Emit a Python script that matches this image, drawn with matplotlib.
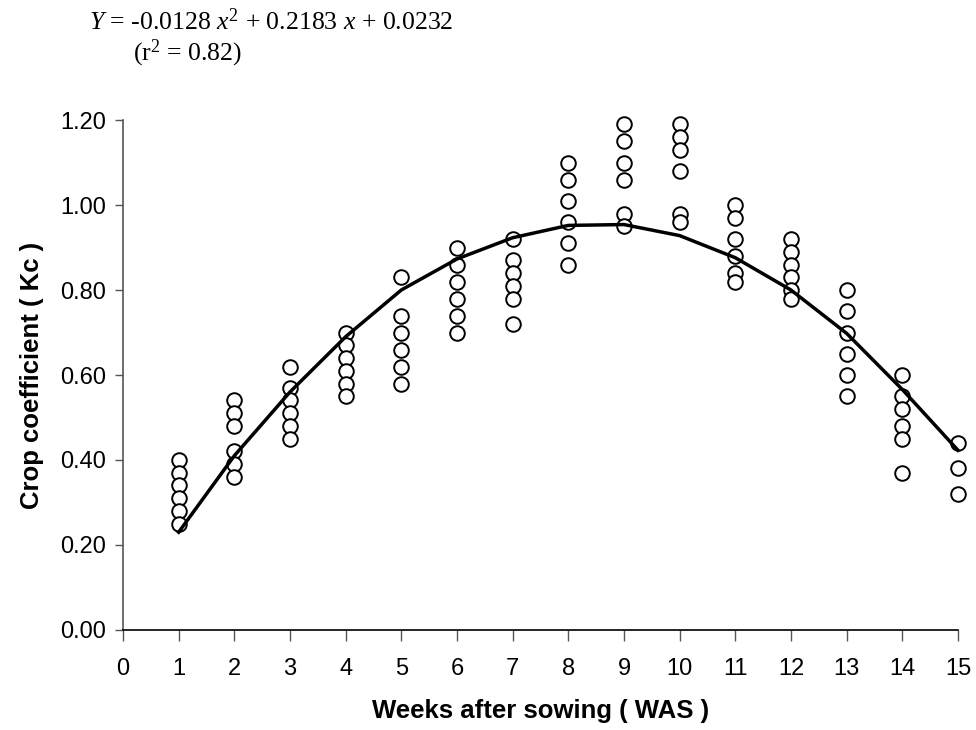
import numpy as np
import matplotlib
matplotlib.use("Agg")
import matplotlib.pyplot as plt
from matplotlib.ticker import FormatStrFormatter

# observed crop coefficient (Kc) values per week after sowing
weeks = list(range(1, 16))
kc_obs = [
    [0.40, 0.37, 0.34, 0.31, 0.28, 0.25],   # 1
    [0.54, 0.51, 0.48, 0.42, 0.39, 0.36],   # 2
    [0.62, 0.57, 0.54, 0.51, 0.48, 0.45],   # 3
    [0.70, 0.67, 0.64, 0.61, 0.58, 0.55],   # 4
    [0.83, 0.74, 0.70, 0.66, 0.62, 0.58],   # 5
    [0.90, 0.86, 0.82, 0.78, 0.74, 0.70],   # 6
    [0.92, 0.87, 0.84, 0.81, 0.78, 0.72],   # 7
    [1.10, 1.06, 1.01, 0.96, 0.91, 0.86],   # 8
    [1.19, 1.15, 1.10, 1.06, 0.98, 0.95],   # 9
    [1.19, 1.16, 1.13, 1.08, 0.98, 0.96],   # 10
    [1.00, 0.97, 0.92, 0.88, 0.84, 0.82],   # 11
    [0.92, 0.89, 0.86, 0.83, 0.80, 0.78],   # 12
    [0.80, 0.75, 0.70, 0.65, 0.60, 0.55],   # 13
    [0.60, 0.55, 0.52, 0.48, 0.45, 0.37],   # 14
    [0.44, 0.38, 0.32],                      # 15
]
# fitted trend line, read at each week
kc_fit = [0.23, 0.41, 0.56, 0.69, 0.80, 0.873, 0.923, 0.952, 0.954,
          0.928, 0.876, 0.80, 0.698, 0.566, 0.423]

eq_line1 = r"$Y$ = -0.0128 $x^2$ + 0.2183 $x$ + 0.0232"
eq_line2 = r"(r$^2$ = 0.82)"

plt.rcParams["mathtext.fontset"] = "custom"
plt.rcParams["mathtext.rm"] = "Liberation Serif"
plt.rcParams["mathtext.it"] = "Liberation Serif:italic"

fig = plt.figure(figsize=(9.76, 7.3), dpi=100)
ax = fig.add_axes([0.126, 0.137, 0.8555, 0.6986])

xs, ys = [], []
for w, vals in zip(weeks, kc_obs):
    xs += [w] * len(vals)
    ys += vals
ax.plot(xs, ys, ls="", marker="o", ms=10.5, mfc="white", mec="black", mew=1.4,
        zorder=3, clip_on=False)
ax.plot(weeks, kc_fit, color="black", lw=2.5, zorder=4, clip_on=False)

ax.set_xlim(0, 15)
ax.set_ylim(0, 1.2)
ax.set_xticks(range(0, 16))
ax.set_yticks(np.arange(0, 1.21, 0.2))
ax.yaxis.set_major_formatter(FormatStrFormatter("%.2f"))

for s in ["top", "right"]:
    ax.spines[s].set_visible(False)
ax.spines["left"].set_color("#555555")
ax.spines["left"].set_linewidth(1.2)
ax.spines["bottom"].set_linewidth(1.2)
ax.tick_params(axis="y", direction="out", length=6, width=1, colors="#555555", labelcolor="black",
               labelsize=17, pad=6)
ax.tick_params(axis="x", direction="out", length=8, width=1, colors="#555555", labelcolor="black",
               labelsize=17, pad=12)
for lab in ax.get_xticklabels() + ax.get_yticklabels():
    lab.set_family("Liberation Sans")

ax.set_xlabel("Weeks after sowing ( WAS )", family="Liberation Sans", fontsize=18.5,
              fontweight="bold", labelpad=14)
ax.set_ylabel("Crop coefficient ( Kc )", family="Liberation Sans", fontsize=18.5,
              fontweight="bold", labelpad=12)

fig.text(89 / 976, 1 - 22 / 730, eq_line1, family="Liberation Serif", fontsize=18.5, va="center")
fig.text(133 / 976, 1 - 53 / 730, eq_line2, family="Liberation Serif", fontsize=18.5, va="center")

fig.savefig("out.png", dpi=100)
